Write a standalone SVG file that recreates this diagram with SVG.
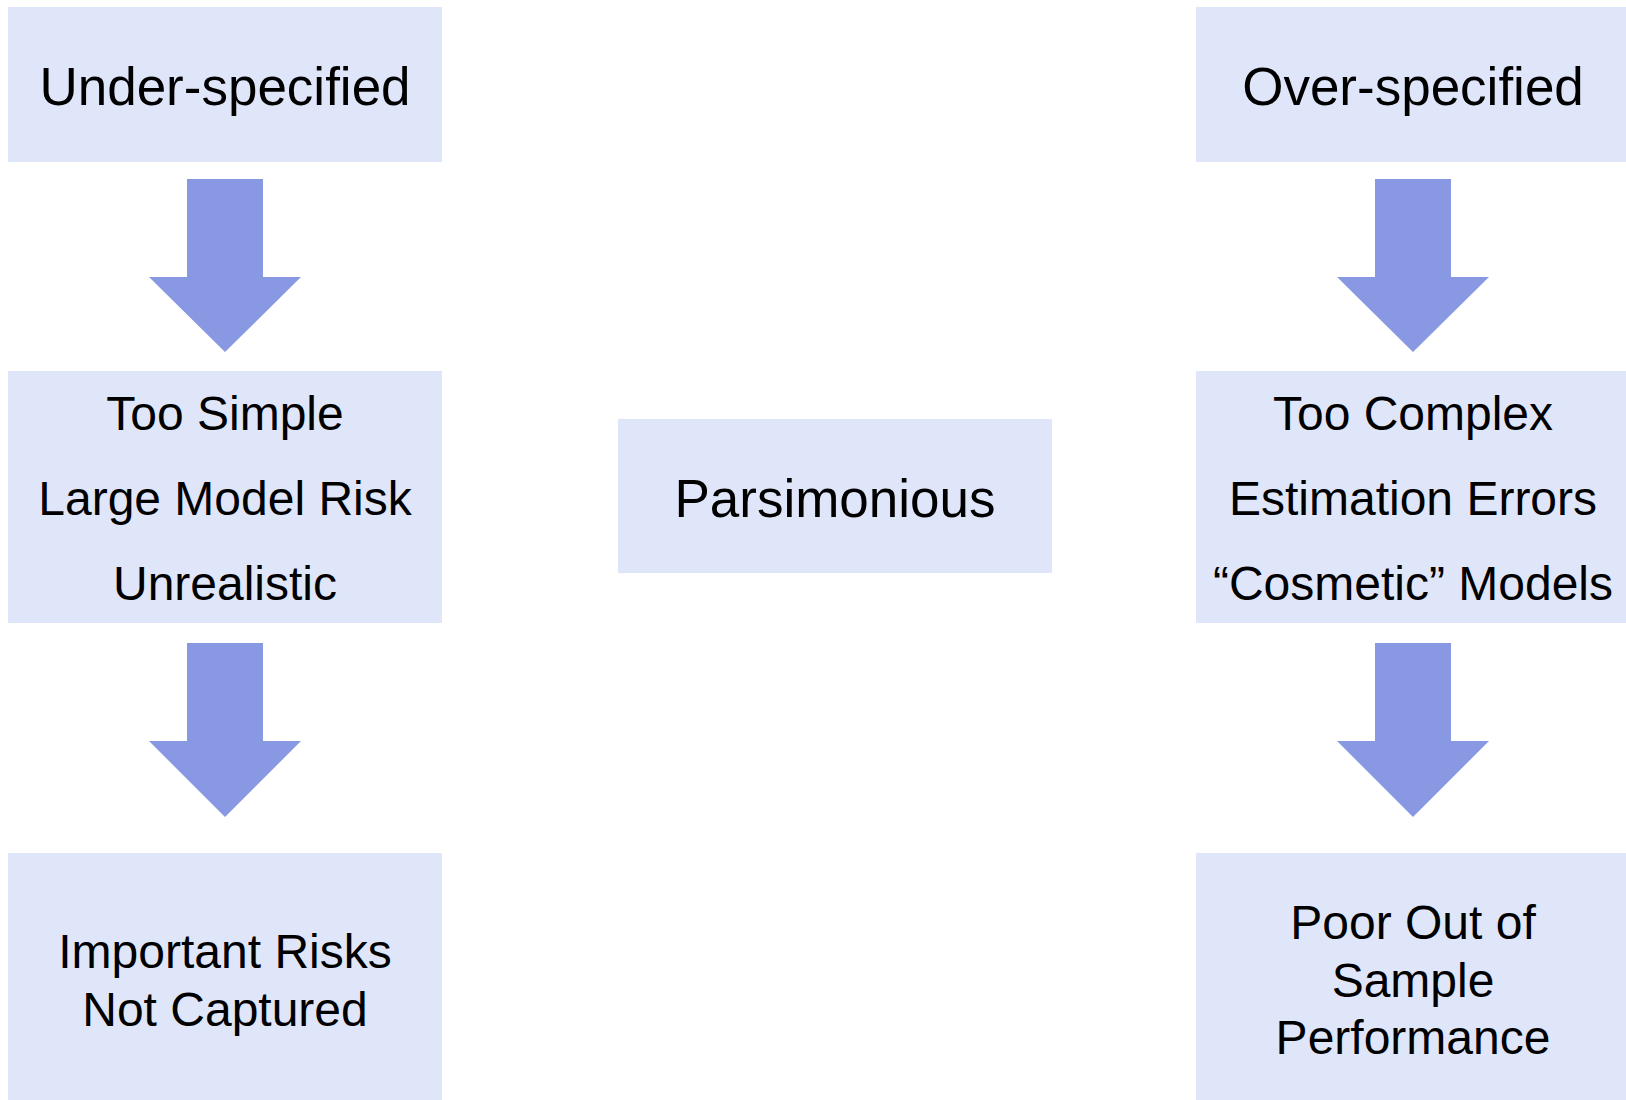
<svg xmlns="http://www.w3.org/2000/svg" width="1626" height="1100" viewBox="0 0 1626 1100">
<defs>
<style>
.box{fill:#E0E6FA}
.arr{fill:#8998E2}
text{font-family:"Liberation Sans",Arial,sans-serif;fill:#000;text-anchor:middle}
.big{font-size:53px}
.mid{font-size:48px}
</style>
</defs>
<rect width="1626" height="1100" fill="#fff"/>
<g id="under">
<rect class="box" x="8" y="7" width="434" height="155"/>
<text class="big" x="225" y="105">Under-specified</text>
</g>
<g id="over">
<rect class="box" x="1196" y="7" width="434" height="155"/>
<text class="big" x="1413" y="105">Over-specified</text>
</g>
<g id="simple">
<rect class="box" x="8" y="371" width="434" height="252"/>
<text class="mid" x="225" y="430">Too Simple</text>
<text class="mid" x="225" y="515">Large Model Risk</text>
<text class="mid" x="225" y="600">Unrealistic</text>
</g>
<g id="complex">
<rect class="box" x="1196" y="371" width="434" height="252"/>
<text class="mid" x="1413" y="430">Too Complex</text>
<text class="mid" x="1413" y="515">Estimation Errors</text>
<text class="mid" x="1413" y="600">“Cosmetic” Models</text>
</g>
<g id="parsimonious">
<rect class="box" x="618" y="419" width="434" height="154"/>
<text class="big" x="835" y="517">Parsimonious</text>
</g>
<g id="risks">
<rect class="box" x="8" y="853" width="434" height="250"/>
<text class="mid" x="225" y="968">Important Risks</text>
<text class="mid" x="225" y="1026">Not Captured</text>
</g>
<g id="poor">
<rect class="box" x="1196" y="853" width="434" height="250"/>
<text class="mid" x="1413" y="939">Poor Out of</text>
<text class="mid" x="1413" y="997">Sample</text>
<text class="mid" x="1413" y="1054">Performance</text>
</g>
<g id="connectors">
<polygon class="arr" points="187,179 263,179 263,277 301,277 225,352 149,277 187,277"/>
<polygon class="arr" points="187,643 263,643 263,741 301,741 225,817 149,741 187,741"/>
<polygon class="arr" points="1375,179 1451,179 1451,277 1489,277 1413,352 1337,277 1375,277"/>
<polygon class="arr" points="1375,643 1451,643 1451,741 1489,741 1413,817 1337,741 1375,741"/>
</g>
</svg>
